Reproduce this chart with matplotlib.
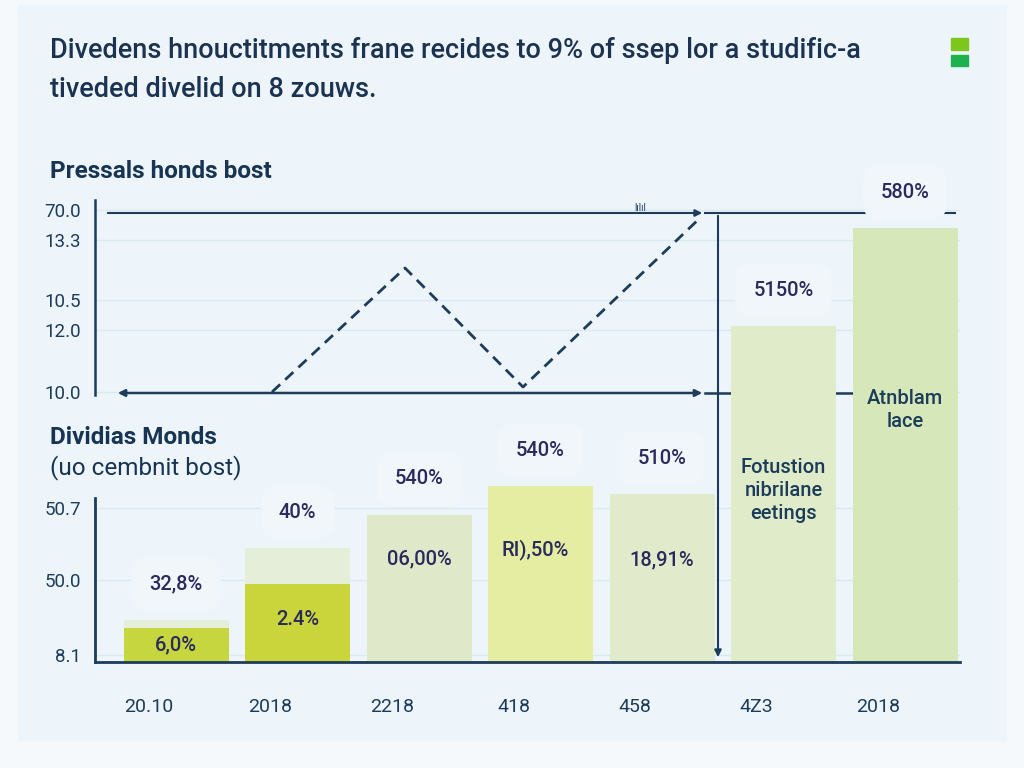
import numpy as np
import matplotlib.pyplot as plt
from matplotlib.patches import Rectangle

# chart text
title = "Divedens hnouctitments frane recides to 9% of ssep lor a studific-a\ntiveded divelid on 8 zouws."
top_heading = "Pressals honds bost"
bar_heading = "Dividias Monds"
bar_subheading = "(uo cembnit bost)"

# top line panel (values in panel units)
line_x = [1.77, 3.10, 4.28, 6.05]
line_y = [3, 127, 8, 177]
top_ticks = [3, 65, 95, 155, 185]
top_tick_labels = ["10.0", "12.0", "10.5", "13.3", "70.0"]

# bars
categories = ["20.10", "2018", "2218", "418", "458", "4Z3", "2018"]
bar_values = [34, 78, 147, 176, 168, 336, 434]
ghost_values = [42, 114, 0, 0, 0, 0, 0]
top_labels = ["32,8%", "40%", "540%", "540%", "510%", "5150%", "580%"]
inner_labels = ["6,0%", "2.4%", "06,00%", "RI),50%", "18,91%",
                "Fotustion\nnibrilane\neetings", "Atnblam\nlace"]
bar_ticks = [7, 82, 154]
bar_tick_labels = ["8.1", "50.0", "50.7"]

bar_colors = ["#c6d63f", "#c9d53a", "#dfe9c9", "#e4eda2", "#e1ebcb", "#e0ecc9", "#d6e8b9"]
navy = "#1c3c5a"
label_col = "#2b2a5c"

plt.rcParams['font.family'] = ['Roboto', 'DejaVu Sans']

fig = plt.figure(figsize=(10.24, 7.68), dpi=100, facecolor="#f6f9fc")
fig.patches.append(Rectangle((18 / 1024, 28 / 768), 988 / 1024, 735 / 768,
                             transform=fig.transFigure, color="#edf5fa", zorder=-5))

W, H = 1024, 768
ax_top = fig.add_axes([95 / W, (H - 395) / H, 865 / W, 195 / H])
ax_bar = fig.add_axes([95 / W, (H - 662) / H, 865 / W, 462 / H])

# ---- top line panel ----
ax_top.set_facecolor("none")
ax_top.set_xlim(0, 8.65)
ax_top.set_ylim(0, 195)
for s in ["top", "right", "bottom"]:
    ax_top.spines[s].set_visible(False)
ax_top.spines["left"].set_color(navy)
ax_top.spines["left"].set_linewidth(1.8)
ax_top.set_xticks([])
ax_top.set_yticks(top_ticks)
ax_top.set_yticklabels(top_tick_labels, fontsize=13.5, color=navy)
ax_top.tick_params(axis="y", length=0, pad=10)
ax_top.grid(axis="y", color="#dbe8f0", linewidth=1)
ax_top.set_axisbelow(True)

ax_top.plot(line_x, line_y, linestyle=(0, (4, 2.5)), color=navy, linewidth=2)
ax_top.annotate("", xy=(6.1, 182), xytext=(0.1, 182),
                arrowprops=dict(arrowstyle="-|>", color=navy, lw=1.5, mutation_scale=10))
ax_top.plot([6.1, 8.6], [182, 182], color=navy, lw=1.5)
ax_top.annotate("", xy=(6.1, 2), xytext=(0.2, 2),
                arrowprops=dict(arrowstyle="<|-|>", color=navy, lw=1.8, mutation_scale=10))
ax_top.plot([6.1, 7.6], [2, 2], color=navy, lw=1.8)
ax_top.text(5.45, 182, "lılıl", fontsize=7, color=navy, ha="center", va="bottom")

# ---- bar panel ----
ax_bar.set_facecolor("none")
ax_bar.set_xlim(0, 8.65)
ax_bar.set_ylim(0, 462)
x = 0.81 + np.arange(len(categories)) * 1.215
ax_bar.bar(x, ghost_values, width=1.05, color="#e5eed9", zorder=1)
ax_bar.bar(x, bar_values, width=1.05, color=bar_colors, zorder=2)

for s in ["top", "right"]:
    ax_bar.spines[s].set_visible(False)
ax_bar.spines["left"].set_bounds(0, 164)
for s in ["left", "bottom"]:
    ax_bar.spines[s].set_color(navy)
    ax_bar.spines[s].set_linewidth(2)
ax_bar.set_yticks(bar_ticks)
ax_bar.set_yticklabels(bar_tick_labels, fontsize=13.5, color=navy)
ax_bar.tick_params(axis="y", length=0, pad=10)
ax_bar.set_xticks(x - 0.27)
ax_bar.set_xticklabels(categories, fontsize=14, color=navy)
ax_bar.tick_params(axis="x", length=0, pad=26)
ax_bar.grid(axis="y", color="#dbe8f0", linewidth=1)
ax_bar.set_axisbelow(True)

card = dict(boxstyle="round,pad=0.9", facecolor="#f0f6fa", edgecolor="none")
for i in range(len(categories)):
    base = max(bar_values[i], ghost_values[i])
    ax_bar.text(x[i], base + 36, top_labels[i], ha="center", va="center",
                fontsize=14.5, color=label_col, fontweight="medium", bbox=card, zorder=3)

inner_y = [0.5, 0.55, 0.7, 0.64, 0.61, 0.51, 0.58]
for i in range(len(categories)):
    multi = "\n" in inner_labels[i]
    ax_bar.text(x[i] - (0.05 if i == 3 else 0), bar_values[i] * inner_y[i], inner_labels[i],
                ha="center", va="center", fontsize=14.5,
                color=navy if multi else label_col, fontweight="medium",
                linespacing=1.25, zorder=4)

# vertical arrow across both panels
ax_bar.annotate("", xy=(6.23, 2), xytext=(6.23, 449),
                arrowprops=dict(arrowstyle="-|>", color=navy, lw=1.5, mutation_scale=10),
                annotation_clip=False)

# headings
fig.text(50 / W, 1 - 70 / H, title, fontsize=19.5, color="#1b3350", fontweight="medium",
         va="center", linespacing=1.55)
fig.text(50 / W, 1 - 172 / H, top_heading, fontsize=17.5, color="#173452",
         fontweight="bold", va="center")
fig.text(50 / W, 1 - 438 / H, bar_heading, fontsize=17.5, color="#173452",
         fontweight="bold", va="center")
fig.text(50 / W, 1 - 468 / H, bar_subheading, fontsize=17.5, color="#173452",
         va="center")

# green marks in the corner
fig.patches.append(Rectangle((951 / W, 1 - 50 / H), 17 / W, 12 / H,
                             transform=fig.transFigure, color="#7dc71d"))
fig.patches.append(Rectangle((951 / W, 1 - 66 / H), 17 / W, 11 / H,
                             transform=fig.transFigure, color="#1db24e"))

fig.savefig("out.png", dpi=100, facecolor=fig.get_facecolor())
